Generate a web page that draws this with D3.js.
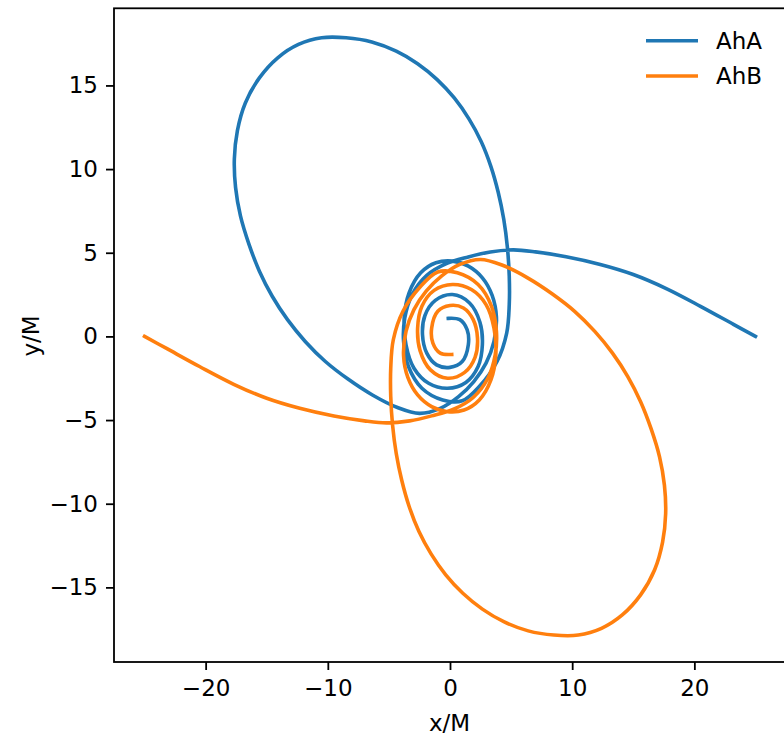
<!DOCTYPE html>
<html lang="en">
<head>
    <meta charset="UTF-8">
    <title>AhA / AhB</title>
    <script src="https://cdn.jsdelivr.net/npm/d3@7"></script>
    <style>
        body { margin: 0; background: #fff; }
        svg text { font-family: "DejaVu Sans", sans-serif; fill: #000; }
        .axis text { font-size: 23px; }
        .axis line { stroke: #000; stroke-width: 1.8px; }
        .axis path { display: none; }
    </style>
</head>
<body>
<script>
    // tick values
    const xTicks = [-20, -10, 0, 10, 20]
    const yTicks = [-15, -10, -5, 0, 5, 10, 15]
    const names = ['AhA', 'AhB']
    const colors = ['#1f77b4', '#ff7f0e']

    // AhA trajectory (x/M, y/M)
    const ahaPts = [
        [25.0, 0.0], [23.2, 0.72], [20.5, 1.8], [17.7, 2.86], [15.0, 3.7], [12.3, 4.3],
        [9.5, 4.76], [7.0, 5.05], [5.2, 5.17], [3.3, 5.05], [1.5, 4.75], [-0.3, 4.35],
        [-1.9, 3.65], [-3.1, 2.5], [-3.7, 1.1], [-3.8, -0.3], [-3.4, -1.8], [-2.3, -3.1],
        [-0.6, -3.8], [1.0, -3.85], [2.45, -2.95], [3.85, -1.5],
        // big loop
        [4.64, 0.2], [4.85, 1.9], [4.85, 3.6], [4.7, 5.3], [4.4, 7.0], [3.95, 8.6],
        [3.35, 10.15], [2.55, 11.65], [1.55, 13.0], [0.35, 14.25], [-1.05, 15.35], [-2.65, 16.3],
        [-4.4, 17.05], [-6.4, 17.6], [-8.5, 17.85], [-10.5, 17.85], [-12.4, 17.45], [-14.1, 16.65],
        [-15.6, 15.45], [-16.75, 13.95], [-17.4, 12.3], [-17.65, 10.6], [-17.55, 8.9], [-17.15, 7.2],
        [-16.45, 5.5], [-15.6, 3.9], [-14.55, 2.4], [-13.3, 1.0], [-11.85, -0.3], [-10.2, -1.5],
        [-8.35, -2.55], [-6.35, -3.5], [-4.3, -4.25],
        // return and merger
        [-2.5, -4.6], [-0.8, -4.3], [0.7, -3.6], [1.95, -2.7], [2.95, -1.6], [3.6, -0.3],
        [3.8, 1.15], [3.45, 2.45], [2.65, 3.5], [1.5, 4.2], [0.2, 4.5], [-1.15, 4.4],
        [-2.4, 3.8], [-3.35, 2.6], [-3.75, 1.1], [-3.6, -0.5], [-2.95, -1.9], [-1.75, -2.8],
        [-0.2, -3.1], [1.3, -2.75], [2.3, -1.8], [2.65, -0.5], [2.45, 0.85], [1.6, 2.0],
        [0.2, 2.5], [-1.2, 2.15], [-2.05, 1.25], [-2.25, 0.1], [-1.9, -1.0], [-1.1, -1.7],
        [0.0, -1.85], [1.0, -1.5], [1.5, -0.5], [1.4, 0.4], [0.8, 1.0], [-0.14, 1.08]
    ]

    // AhB trajectory (x/M, y/M)
    const ahbPts = [
        [-25.0, 0.0], [-23.2, -0.72], [-20.5, -1.8], [-17.7, -2.86], [-15.0, -3.7], [-12.3, -4.3],
        [-9.5, -4.76], [-7.0, -5.05], [-5.2, -5.17], [-3.3, -5.05], [-1.5, -4.75], [0.3, -4.35],
        [1.9, -3.65], [3.1, -2.5], [3.7, -1.1], [3.8, 0.3], [3.4, 1.8], [2.3, 3.1],
        [0.6, 3.8], [-1.0, 3.85], [-2.45, 2.95], [-3.85, 1.5],
        // big loop
        [-4.64, -0.2], [-4.85, -1.9], [-4.85, -3.6], [-4.7, -5.3], [-4.4, -7.0], [-3.95, -8.6],
        [-3.35, -10.15], [-2.55, -11.65], [-1.55, -13.0], [-0.35, -14.25], [1.05, -15.35], [2.65, -16.3],
        [4.4, -17.05], [6.4, -17.6], [8.5, -17.85], [10.5, -17.85], [12.4, -17.45], [14.1, -16.65],
        [15.6, -15.45], [16.75, -13.95], [17.4, -12.3], [17.65, -10.6], [17.55, -8.9], [17.15, -7.2],
        [16.45, -5.5], [15.6, -3.9], [14.55, -2.4], [13.3, -1.0], [11.85, 0.3], [10.2, 1.5],
        [8.35, 2.55], [6.35, 3.5], [4.3, 4.25],
        // return and merger
        [2.5, 4.6], [0.8, 4.3], [-0.7, 3.6], [-1.95, 2.7], [-2.95, 1.6], [-3.6, 0.3],
        [-3.8, -1.15], [-3.45, -2.45], [-2.65, -3.5], [-1.5, -4.2], [-0.2, -4.5], [1.15, -4.4],
        [2.4, -3.8], [3.35, -2.6], [3.75, -1.1], [3.6, 0.5], [2.95, 1.9], [1.75, 2.8],
        [0.2, 3.1], [-1.3, 2.75], [-2.3, 1.8], [-2.65, 0.5], [-2.45, -0.85], [-1.6, -2.0],
        [-0.2, -2.5], [1.2, -2.15], [2.05, -1.25], [2.25, -0.1], [1.9, 1.0], [1.1, 1.7],
        [0.0, 1.85], [-1.0, 1.5], [-1.5, 0.5], [-1.4, -0.4], [-0.8, -1.0], [0.14, -1.08]
    ]

    const width = 784
    const height = 736
    const plotL = 114, plotR = 786, plotT = 8.3, plotB = 662

    const svg = d3.select('body').append('svg')
        .attr('width', width).attr('height', height)

    const x = d3.scaleLinear().domain([-27.5, 27.5]).range([plotL, plotR])
    const y = d3.scaleLinear().domain([-19.46, 19.61]).range([plotB, plotT])

    const fmt = d => (d < 0 ? '\u2212' : '') + Math.abs(d)

    svg.append('clipPath').attr('id', 'plot')
        .append('rect').attr('x', plotL).attr('y', plotT)
        .attr('width', plotR - plotL).attr('height', plotB - plotT)

    const line = d3.line()
        .x(d => x(d[0]))
        .y(d => y(d[1]))
        .curve(d3.curveCatmullRom.alpha(0.5))

    const g = svg.append('g').attr('clip-path', 'url(#plot)')
    ;[ahaPts, ahbPts].forEach((pts, i) => {
        g.append('path')
            .attr('d', line(pts))
            .attr('fill', 'none')
            .attr('stroke', colors[i])
            .attr('stroke-width', 3.6)
            .attr('stroke-linejoin', 'round')
            .attr('stroke-linecap', 'square')
    })

    // frame
    svg.append('rect')
        .attr('x', plotL).attr('y', plotT)
        .attr('width', plotR - plotL).attr('height', plotB - plotT)
        .attr('fill', 'none').attr('stroke', '#000').attr('stroke-width', 1.8)

    svg.append('g')
        .attr('class', 'axis')
        .attr('transform', 'translate(0,' + plotB + ')')
        .call(d3.axisBottom(x).tickValues(xTicks).tickFormat(fmt).tickSize(8).tickPadding(10))

    svg.append('g')
        .attr('class', 'axis')
        .attr('transform', 'translate(' + plotL + ',0)')
        .call(d3.axisLeft(y).tickValues(yTicks).tickFormat(fmt).tickSize(8).tickPadding(8))

    svg.append('text')
        .attr('x', 449.5).attr('y', 731)
        .attr('text-anchor', 'middle')
        .style('font-size', '23px')
        .text('x/M')

    svg.append('text')
        .attr('transform', 'translate(39,336) rotate(-90)')
        .attr('text-anchor', 'middle')
        .style('font-size', '23px')
        .text('y/M')

    // legend
    const legend = svg.append('g')
    names.forEach((n, i) => {
        const ly = 40.7 + i * 35.3
        legend.append('line')
            .attr('x1', 646).attr('x2', 698)
            .attr('y1', ly).attr('y2', ly)
            .attr('stroke', colors[i]).attr('stroke-width', 3.6)
        legend.append('text')
            .attr('x', 716).attr('y', ly)
            .attr('dy', '0.36em')
            .style('font-size', '23px')
            .text(n)
    })
</script>
</body>
</html>
